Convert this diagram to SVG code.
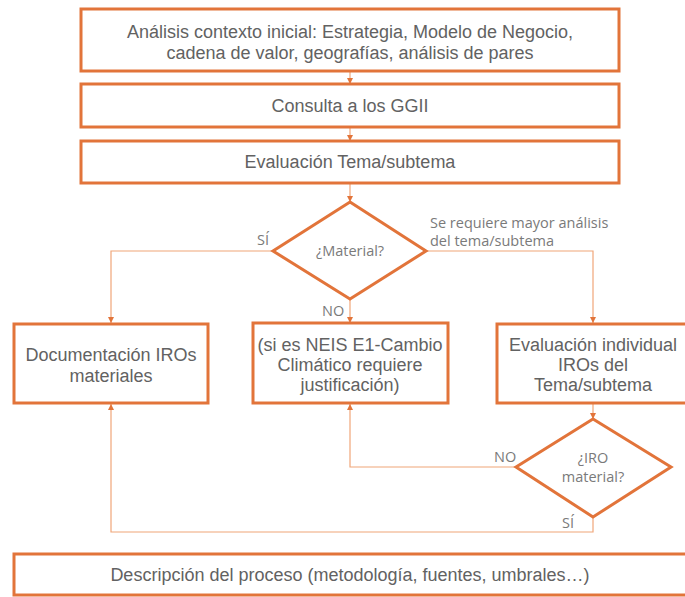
<svg xmlns="http://www.w3.org/2000/svg" width="685" height="597" viewBox="0 0 685 597">
<style>
.box{fill:#fff;stroke:#E2743A;stroke-width:3}
.dia{fill:#fff;stroke:#E2743A;stroke-width:3;stroke-linejoin:miter}
.con{fill:none;stroke:#F0A679;stroke-width:1.2}
.t{font-family:"Liberation Sans",Arial,sans-serif;font-size:18px;fill:#626262;text-anchor:middle}
.s{font-family:"Open Sans","Liberation Sans",sans-serif;font-size:14.5px;fill:#7a7a7a}
.sm{text-anchor:middle}
</style>
<defs>
<marker id="ah" viewBox="0 0 6 6" refX="6" refY="3" markerWidth="6" markerHeight="6" markerUnits="userSpaceOnUse" orient="auto">
<path d="M0,0 L6,3 L0,6 z" fill="#E2743A"/>
</marker>
</defs>
<rect width="685" height="597" fill="#fff"/>
<g id="connectors">
<path class="con" d="M350,71 V84" marker-end="url(#ah)"/>
<path class="con" d="M350,127 V141" marker-end="url(#ah)"/>
<path class="con" d="M350,183 V202" marker-end="url(#ah)"/>
<path class="con" d="M273,251 H111 V323" marker-end="url(#ah)"/>
<path class="con" d="M350,299 V323" marker-end="url(#ah)"/>
<path class="con" d="M426,251 H593 V323" marker-end="url(#ah)"/>
<path class="con" d="M593,403 V419" marker-end="url(#ah)"/>
<path class="con" d="M516,467 H350 V404" marker-end="url(#ah)"/>
<path class="con" d="M593,517 V532 H111 V404" marker-end="url(#ah)"/>
<text class="s" x="257" y="245">SÍ</text>
<text class="s" x="322" y="316">NO</text>
<text class="s" x="430" y="228">Se requiere mayor análisis</text>
<text class="s" x="430" y="246">del tema/subtema</text>
<text class="s" x="494" y="462">NO</text>
<text class="s" x="562" y="528">SÍ</text>
</g>
<g id="n1">
<rect class="box" x="81" y="9" width="538" height="62"/>
<text class="t" x="350" y="38">Análisis contexto inicial: Estrategia, Modelo de Negocio,</text>
<text class="t" x="350" y="59">cadena de valor, geografías, análisis de pares</text>
</g>
<g id="n2">
<rect class="box" x="81" y="84" width="538" height="43"/>
<text class="t" x="350" y="112">Consulta a los GGII</text>
</g>
<g id="n3">
<rect class="box" x="81" y="141" width="538" height="42"/>
<text class="t" x="350" y="168">Evaluación Tema/subtema</text>
</g>
<g id="d1">
<polygon class="dia" points="350,202 426,251 350,299 273,251"/>
<text class="s sm" x="350" y="256">¿Material?</text>
</g>
<g id="nL">
<rect class="box" x="14" y="324" width="194" height="79"/>
<text class="t" x="111" y="361">Documentación IROs</text>
<text class="t" x="111" y="382">materiales</text>
</g>
<g id="nM">
<rect class="box" x="253" y="323" width="195" height="80"/>
<text class="t" x="350" y="351">(si es NEIS E1-Cambio</text>
<text class="t" x="350" y="371">Climático requiere</text>
<text class="t" x="350" y="391">justificación)</text>
</g>
<g id="nR">
<rect class="box" x="497" y="324" width="192" height="79"/>
<text class="t" x="593" y="351">Evaluación individual</text>
<text class="t" x="593" y="371">IROs del</text>
<text class="t" x="593" y="391">Tema/subtema</text>
</g>
<g id="d2">
<polygon class="dia" points="593,419 671,467 593,517 516,467"/>
<text class="s sm" x="593" y="463">¿IRO</text>
<text class="s sm" x="593" y="482">material?</text>
</g>
<g id="nB">
<rect class="box" x="14" y="554" width="680" height="41"/>
<text class="t" x="350" y="581">Descripción del proceso (metodología, fuentes, umbrales…)</text>
</g>
</svg>
